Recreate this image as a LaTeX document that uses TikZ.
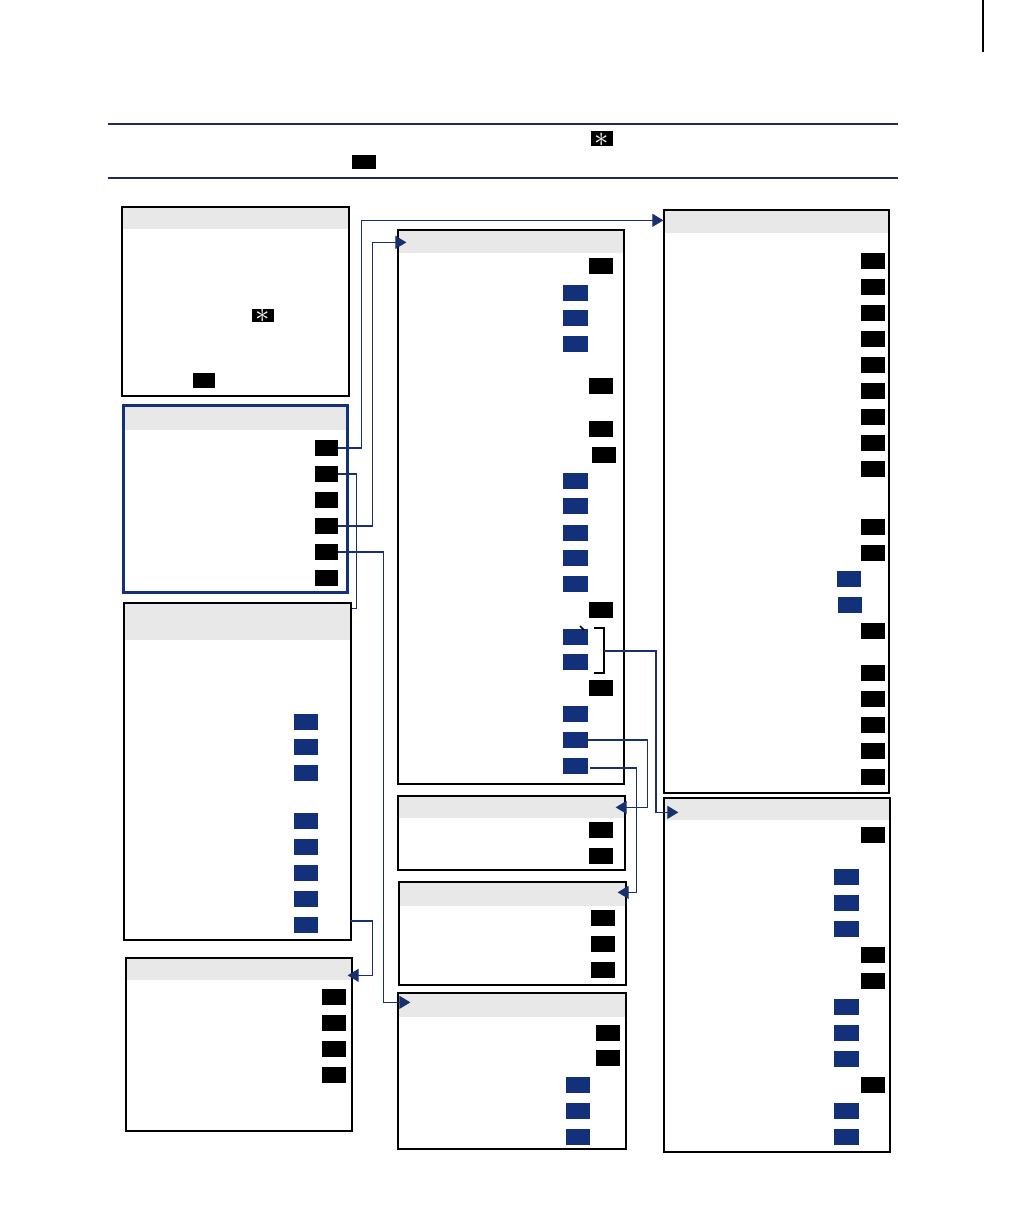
\documentclass[tikz,border=0pt]{standalone}
\usetikzlibrary{arrows.meta,calc,fit}
\definecolor{navy}{HTML}{1A2F6E}
\definecolor{rulec}{HTML}{1F2A55}
\definecolor{kblue}{HTML}{13307A}
\definecolor{hdr}{HTML}{E8E8E8}
\begin{document}
\begin{tikzpicture}[x=0.5pt,y=-0.5pt,
  box/.style={draw=black, line width=0.65pt, inner sep=0pt},
  bbox/.style={draw=kblue, line width=1.5pt, inner sep=0pt},
  bk/.style={fill=black, inner sep=0pt, minimum width=12pt, minimum height=8pt},
  bl/.style={fill=kblue, inner sep=0pt, minimum width=12.5pt, minimum height=8pt},
  ak/.style={fill=black, inner sep=0pt, minimum width=11pt, minimum height=7.5pt, text=white, font=\Large},
  conn/.style={draw=navy, line width=0.6pt},
  arr/.style={conn, -{Triangle[length=5.5pt,width=6.5pt]}},
  rulel/.style={draw=rulec, line width=0.8pt}]
\useasboundingbox[fill=white] (0,0) rectangle (1008,1224);

% page marker and rules
\draw[line width=0.7pt] (983,0) -- (983,52);
\draw[rulel] (108,124) -- (898,124);
\draw[rulel] (108,178) -- (898,178);
\node[ak] (t1) at (602,139) {\raisebox{-3.6pt}[0pt][0pt]{$\ast$}};
\node[bk, minimum width=12pt, minimum height=7pt] (t2) at (364,162) {};

% Box A
\fill[hdr] (122,207) rectangle (349,229);
\node[box, fit={(122,207)(349,396)}] (A) {};
\node[ak, minimum height=6.5pt] (a1) at (263,315.5) {\raisebox{-3.6pt}[0pt][0pt]{$\ast$}};
\node[ak] (a2) at (204,381) {};

% Box B
\fill[hdr] (124,407) rectangle (346,430);
\node[bbox, fit={(123.5,405.5)(347,592.5)}] (B) {};
\foreach \y [count=\i] in {448,474,500,526,552,578}
  \node[bk, minimum width=11.5pt] (B\i) at (326.5,\y) {};

% Box C
\fill[hdr] (124,603) rectangle (351,640);
\node[box, fit={(124,603)(351,940)}] (C) {};
\foreach \y [count=\i] in {722,747,773,821,847,873,899,925}
  \node[bl, minimum width=12pt] (C\i) at (306,\y) {};

% Box D
\fill[hdr] (126,958) rectangle (352,980);
\node[box, fit={(126,958)(352,1131)}] (D) {};
\foreach \y [count=\i] in {997,1023,1049,1075}
  \node[bk] (D\i) at (333.5,\y) {};

% Box E
\fill[hdr] (398,230) rectangle (624,253);
\node[box, fit={(398,230)(624,784)}] (E) {};
\node[bk] (E1) at (601,266) {};
\node[bl] (E2) at (575.5,293) {};
\node[bl] (E3) at (575.5,318) {};
\node[bl] (E4) at (575.5,344) {};
\node[bk] (E5) at (601,386) {};
\node[bk] (E6) at (601,429) {};
\node[bk] (E7) at (604,455) {};
\node[bl] (E8) at (575.5,481) {};
\node[bl] (E9) at (575.5,506) {};
\node[bl] (E10) at (575.5,533) {};
\node[bl] (E11) at (575.5,558) {};
\node[bl] (E12) at (575.5,584) {};
\node[bk] (E13) at (601,610) {};
\node[bl] (E14) at (575.5,637) {};
\node[bl] (E15) at (575.5,662) {};
\node[bk] (E16) at (601,688) {};
\node[bl] (E17) at (575.5,714) {};
\node[bl] (E18) at (575.5,740) {};
\node[bl] (E19) at (575.5,766) {};
% bracket
\draw[line width=0.6pt] (594,628) -- (604,628) -- (604,673) -- (594,673);
\draw[line width=0.8pt] (580,626) -- (584,630);
\coordinate (brk) at (604,651);

% Box F
\fill[hdr] (398,796) rectangle (625,818);
\node[box, fit={(398,796)(625,870)}] (F) {};
\node[bk] (F1) at (601,830) {};
\node[bk] (F2) at (601,856) {};

% Box G
\fill[hdr] (399,882) rectangle (626,906);
\node[box, fit={(399,882)(626,985)}] (G) {};
\foreach \y [count=\i] in {918,944,970}
  \node[bk] (G\i) at (603,\y) {};

% Box H
\fill[hdr] (398,993) rectangle (626,1017);
\node[box, fit={(398,993)(626,1149)}] (H) {};
\node[bk] (H1) at (608,1033) {};
\node[bk] (H2) at (608,1058) {};
\foreach \y [count=\i from 3] in {1085,1111,1137}
  \node[bl, minimum width=12pt] (H\i) at (578,\y) {};

% Box I
\fill[hdr] (664,210) rectangle (889,233);
\node[box, fit={(664,210)(889,793)}] (I) {};
\foreach \y [count=\i] in {261,287,313,339,365,391,417,443,469,527,553}
  \node[bk] (I\i) at (872.5,\y) {};
\node[bl, minimum width=12pt] (I12) at (849,579) {};
\node[bl, minimum width=12pt] (I13) at (850,605) {};
\foreach \y [count=\i from 14] in {631,673,699,725,751,777}
  \node[bk] (I\i) at (872.5,\y) {};

% Box J
\fill[hdr] (664,798) rectangle (890,820);
\node[box, fit={(664,798)(890,1152)}] (J) {};
\node[bk] (J1) at (872.5,835) {};
\foreach \y [count=\i from 2] in {877,903,929}
  \node[bl] (J\i) at (846.5,\y) {};
\node[bk] (J5) at (872.5,955) {};
\node[bk] (J6) at (872.5,981) {};
\foreach \y [count=\i from 7] in {1007,1033,1059}
  \node[bl] (J\i) at (846.5,\y) {};
\node[bk] (J10) at (872.5,1085) {};
\node[bl] (J11) at (846.5,1111) {};
\node[bl] (J12) at (846.5,1137) {};

% Connectors
\draw[arr] (B1.east) -- ++(23,0) |- ($(I.north west)+(0,11)$);
\draw[conn] (B2.east) -- ++(18,0) |- ($(C.north east)+(0,6)$);
\draw[arr] (B4.east) -- ++(34,0) |- ($(E.north west)+(9,13)$);
\draw[arr] (B5.east) -- ++(45,0) |- ($(H.north west)+(13,10)$);
\draw[arr] ($(C.east|-C8)+(-2,-4)$) -- ++(23,0) |- ($(D.north east)+(-5,18)$);
\draw[arr] (brk) -- ++(52,0) |- ($(J.north west)+(15,15)$);
\draw[arr] (E18.east) -- ++(59,0) |- ($(F.north east)+(-10,12)$);
\draw[arr] ($(E19.east)+(2,2)$) -- ++(46,0) |- ($(G.north east)+(-9,11)$);
\end{tikzpicture}
\end{document}
